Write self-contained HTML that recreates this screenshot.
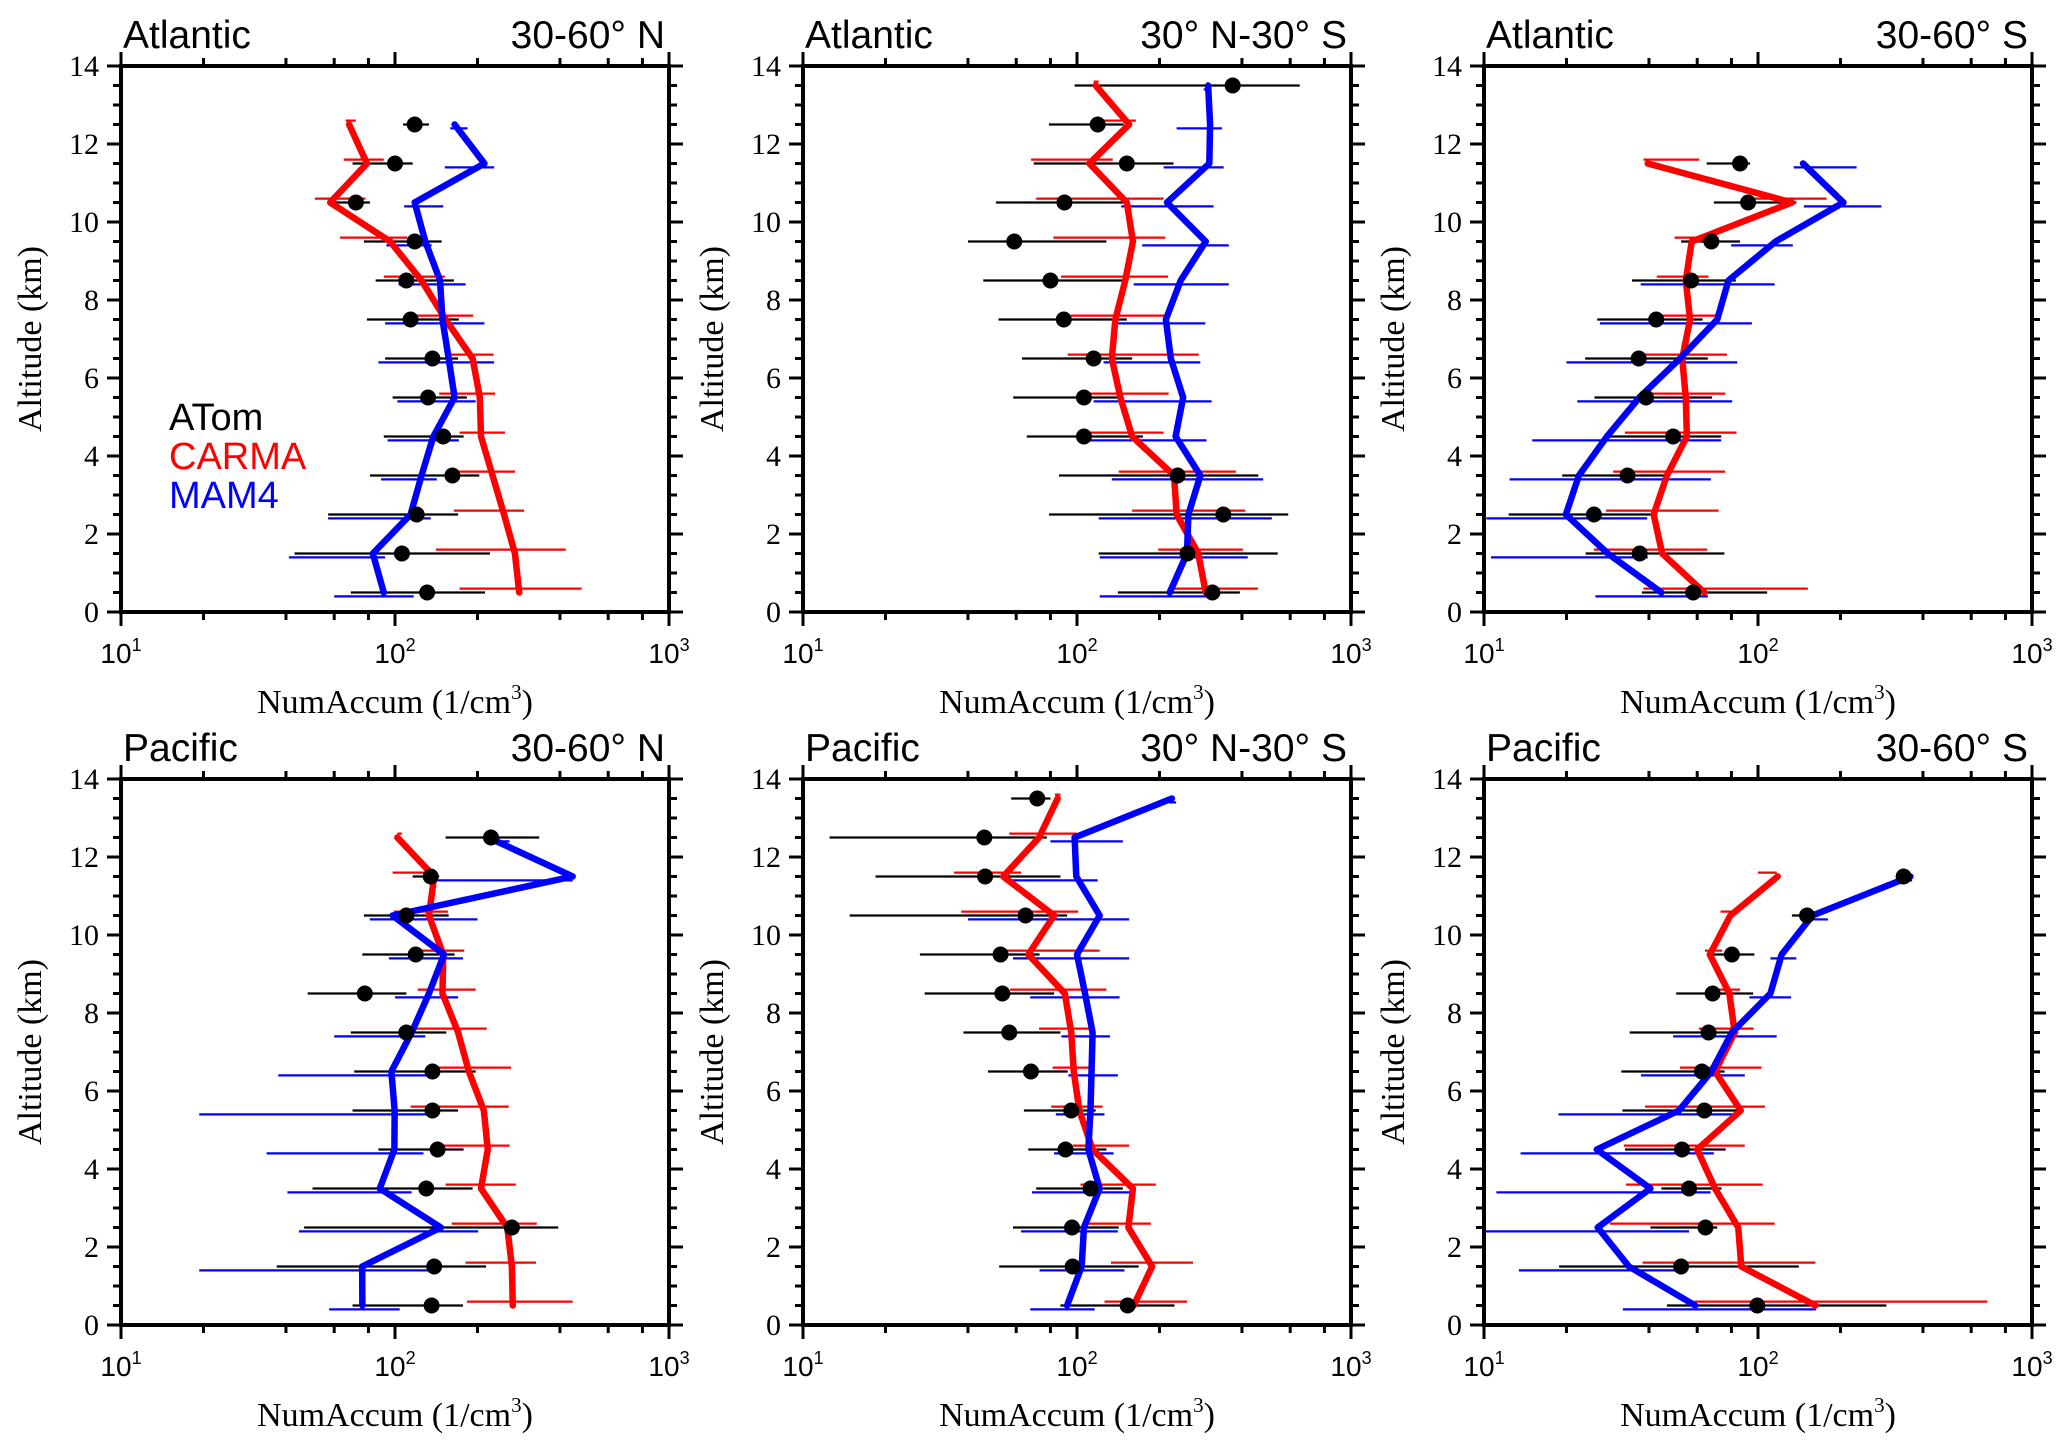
<!DOCTYPE html>
<html><head><meta charset="utf-8"><title>NumAccum profiles</title>
<style>
html,body{margin:0;padding:0;background:#fff;}
svg{display:block;}
.serif{font-family:"Liberation Serif",serif;}
.sans{font-family:"Liberation Sans",sans-serif;}
</style></head>
<body>
<svg id="fig" width="2067" height="1452" viewBox="0 0 2067 1452" xmlns="http://www.w3.org/2000/svg"></svg>
<script>
// ---- data: Atlantic 30-60N ----
const p1Alt = [0.5,1.5,2.5,3.5,4.5,5.5,6.5,7.5,8.5,9.5,10.5,11.5,12.5];
const p1Obs = [131,106,120,162,150,132,137,114,110,118,72,100,118];
const p1ObsLo = [69,43,57,81,91,98,92,79,85,77,60,70,107];
const p1ObsHi = [213,222,170,203,178,183,170,171,164,148,81,116,133];
const p1Carma = [284,274,250,227,206,204,192,153,125,96,58,79,68];
const p1CarmaLo = [172,141,164,168,172,145,153,120,91,63,51,65,66];
const p1CarmaHi = [480,420,296,274,252,232,229,193,152,111,78,91,72];
const p1Mam = [91,83,114,125,138,165,157,149,146,129,118,212,165];
const p1MamLo = [60,41,57,89,94,102,87,92,103,93,108,152,159];
const p1MamHi = [117,92,135,142,171,197,230,212,181,136,150,230,184];
// ---- data: Atlantic 30N-30S ----
const p2Alt = [0.5,1.5,2.5,3.5,4.5,5.5,6.5,7.5,8.5,9.5,10.5,11.5,12.5,13.5];
const p2Obs = [312,253,342,233,106,106,115,89.5,80,59,90,152,119,370];
const p2ObsLo = [141,120,79,86,65.6,58.5,63,51.7,45.5,40,50.6,69.5,79,98];
const p2ObsHi = [393,540,590,459,174,142,159,152,149,128,152,225,148,650];
const p2Carma = [295,277,231,226,159,144,134,138,150,160,152,111,155,117];
const p2CarmaLo = [222,198,159,142,108,105,92.5,95,87.5,82,71,68,123,115];
const p2CarmaHi = [457,403,411,380,207,216,278,215,215,210,207,135,164,120];
const p2Mam = [218,252,255,282,229,244,220,211,239,295,213,304,306,301];
const p2MamLo = [121,121,120,134,108,115,125,136,161,173,145,207,231,290];
const p2MamHi = [312,420,514,478,297,310,282,294,358,358,315,343,338,306];
// ---- data: Atlantic 30-60S ----
const p3Alt = [0.5,1.5,2.5,3.5,4.5,5.5,6.5,7.5,8.5,9.5,10.5,11.5];
const p3Obs = [58,37,25.2,33.4,49,39,36.7,42.5,57,67.6,92,86];
const p3ObsLo = [37.7,23.5,12.3,19.3,27.9,25.3,23.4,25.9,34.7,52.4,69,65];
const p3ObsHi = [108,75.4,41.8,45.4,73.4,68,65.6,62.8,83,86,138,93.5];
const p3Carma = [63.7,44.7,41.6,46.5,55,54.5,52.9,56.5,54.5,57.3,133,39.6];
const p3CarmaLo = [38.2,25.2,27.9,29.6,32.7,38.8,36.2,40.6,42.7,49.6,94,38.2];
const p3CarmaHi = [152,65.3,71.8,75.9,83.5,76,77,73,66,65.6,178,61];
const p3Mam = [44.4,28.3,19.9,22.2,28.1,36.9,51.9,71,78,116,205,146];
const p3MamLo = [25.5,10.6,10.2,12.4,15,21.9,20,26.5,37.3,79.8,147,135];
const p3MamHi = [65.6,39.6,39.4,67.3,73.4,80.5,84,95,115,134,282,229];
// ---- data: Pacific 30-60N ----
const p4Alt = [0.5,1.5,2.5,3.5,4.5,5.5,6.5,7.5,8.5,9.5,10.5,11.5,12.5];
const p4Obs = [136,139,267,130,143,137,137,110,77.6,119,110,135,224];
const p4ObsLo = [70,37,46.6,50,87,70,71,69,48,76,77,116,153];
const p4ObsHi = [177,215,394,192,178,170,197,154,110,165,157,145,336];
const p4Carma = [269,267,257,206,218,211,186,170,149,150,133,139,102];
const p4CarmaLo = [183,181,161,153,142,114,132,118,121,113,99,98,102];
const p4CarmaHi = [445,327,329,276,262,260,265,216,197,179,156,140,106];
const p4Mam = [76,75.9,147,88,99.5,99.7,97,115,133,151,98,445,219];
const p4MamLo = [57.5,19.3,44.6,40.5,34,19.3,37.5,60,100,95,81,139,216];
const p4MamHi = [104,145,201,115,127,144,133,129,170,177,200,445,262];
// ---- data: Pacific 30N-30S ----
const p5Alt = [0.5,1.5,2.5,3.5,4.5,5.5,6.5,7.5,8.5,9.5,10.5,11.5,12.5,13.5];
const p5Obs = [153,96.4,95.9,112,90.8,95.3,67.9,56.6,53.4,52.6,64.9,46.2,45.9,71.6];
const p5ObsLo = [87,52,58.4,71,66.4,64,47.3,38.5,27.8,26.7,14.8,18.4,12.5,57.5];
const p5ObsHi = [227,168,142,147,128,117,92.5,87,82.5,73,92,87,77.6,80];
const p5Carma = [161,188,154,160,114,102,97.3,95.3,90.3,66.4,82.5,53.8,72.7,85];
const p5CarmaLo = [126,133,108,103,96.4,80.5,81.5,72.7,57,51,37.8,35.6,56.6,83];
const p5CarmaHi = [252,265,186,194,155,124,115,114,128,121,101,62.5,100,87];
const p5Mam = [92,104,106,121,110,112,113,114,107,100,121,99.4,98,222];
const p5MamLo = [67.5,73,62.5,68.5,82.5,83.7,93,87.7,67.5,58.4,40,56,80,217];
const p5MamHi = [116,149,141,156,136,126,141,132,143,155,155,119,147,230];
// ---- data: Pacific 30-60S ----
const p6Alt = [0.5,1.5,2.5,3.5,4.5,5.5,6.5,7.5,8.5,9.5,10.5,11.5];
const p6Obs = [99.4,52.4,64.3,56,52.8,63.7,62.4,66,68.3,80.3,151,340];
const p6ObsLo = [46.5,18.8,40.5,44.4,32.7,32,31.7,34,50.3,65.6,133,330];
const p6ObsHi = [294,141,71,73.6,76.2,83.8,75.5,84.7,96,97,162,352];
const p6Carma = [162,86.9,84.7,69.7,60,86.5,69.7,82.2,78.6,66.7,79.3,118];
const p6CarmaLo = [58.7,37.9,28.8,33,32.4,38.7,51.9,60.8,67.6,64,73,100];
const p6CarmaHi = [687,162,115,104,89.5,106,103,96.4,86,74,80.5,117];
const p6Mam = [59,33.8,26,40.5,25.8,51.5,67.6,80.3,111,122,158,360];
const p6MamLo = [32.1,13.4,10.1,11.1,13.6,18.7,37.4,49,93,111,158,338];
const p6MamHi = [163,51.2,56,67.1,69,80.9,89.5,117,132,138,180,365];

const yTickLabels = ["0","2","4","6","8","10","12","14"];
const xDecadeExps = [1,2,3];
const legendLabels = ["ATom","CARMA","MAM4"];

const panels = [
 {ocean:"Atlantic", region:"30-60° N", col:0,row:0, alt:p1Alt, obs:p1Obs, obsLo:p1ObsLo, obsHi:p1ObsHi, carma:p1Carma, carmaLo:p1CarmaLo, carmaHi:p1CarmaHi, mam:p1Mam, mamLo:p1MamLo, mamHi:p1MamHi, legend:true},
 {ocean:"Atlantic", region:"30° N-30° S", col:1,row:0, alt:p2Alt, obs:p2Obs, obsLo:p2ObsLo, obsHi:p2ObsHi, carma:p2Carma, carmaLo:p2CarmaLo, carmaHi:p2CarmaHi, mam:p2Mam, mamLo:p2MamLo, mamHi:p2MamHi},
 {ocean:"Atlantic", region:"30-60° S", col:2,row:0, alt:p3Alt, obs:p3Obs, obsLo:p3ObsLo, obsHi:p3ObsHi, carma:p3Carma, carmaLo:p3CarmaLo, carmaHi:p3CarmaHi, mam:p3Mam, mamLo:p3MamLo, mamHi:p3MamHi},
 {ocean:"Pacific", region:"30-60° N", col:0,row:1, alt:p4Alt, obs:p4Obs, obsLo:p4ObsLo, obsHi:p4ObsHi, carma:p4Carma, carmaLo:p4CarmaLo, carmaHi:p4CarmaHi, mam:p4Mam, mamLo:p4MamLo, mamHi:p4MamHi},
 {ocean:"Pacific", region:"30° N-30° S", col:1,row:1, alt:p5Alt, obs:p5Obs, obsLo:p5ObsLo, obsHi:p5ObsHi, carma:p5Carma, carmaLo:p5CarmaLo, carmaHi:p5CarmaHi, mam:p5Mam, mamLo:p5MamLo, mamHi:p5MamHi},
 {ocean:"Pacific", region:"30-60° S", col:2,row:1, alt:p6Alt, obs:p6Obs, obsLo:p6ObsLo, obsHi:p6ObsHi, carma:p6Carma, carmaLo:p6CarmaLo, carmaHi:p6CarmaHi, mam:p6Mam, mamLo:p6MamLo, mamHi:p6MamHi}
];

const NS = "http://www.w3.org/2000/svg";
const svg = document.getElementById("fig");
const COLX = [121, 803, 1484], ROWY = [66, 779], W = 548, H = 546;
function mk(tag, attrs, parent){
  const e = document.createElementNS(NS, tag);
  for (const k in attrs) e.setAttribute(k, attrs[k]);
  (parent||svg).appendChild(e);
  return e;
}

panels.forEach((p, pi) => {
  const x0 = COLX[p.col], y0 = ROWY[p.row];
  const xs = v => x0 + (Math.log10(v) - 1) / 2 * W;
  const ys = a => y0 + H - a / 14 * H;
  const g = mk("g", {});
  
  

  const cp = mk("clipPath", {id:"clip"+pi}, g);
  mk("rect", {x:x0, y:y0, width:W, height:H}, cp);

  const t1 = mk("text", {x:x0+2, y:y0-18, "font-size":39, class:"sans"}, g);
  t1.textContent = p.ocean;
  
  
  const t2 = mk("text", {x:x0+W-4, y:y0-18, "font-size":39, class:"sans", "text-anchor":"end"}, g);
  t2.textContent = p.region;
  
  

  const tk = mk("g", {stroke:"#000", "stroke-width":3}, g);
  
  
  for (let a = 0; a <= 14; a += 0.5) {
    const major = (a % 2 === 0);
    const len = major ? 14 : 8;
    const y = ys(a);
    mk("line", {x1:x0-len, x2:x0, y1:y, y2:y}, tk);
    mk("line", {x1:x0+W, x2:x0+W+len, y1:y, y2:y}, tk);
  }
  for (let d = 1; d <= 2; d++) {
    for (let m = 1; m <= 10; m++) {
      if (m > 1 && m % 2 === 1) continue;
      const v = Math.pow(10, d) * m;
      const x = xs(v);
      const major = (m === 1 || m === 10);
      const len = major ? 14 : 8;
      mk("line", {x1:x, x2:x, y1:y0+H, y2:y0+H+len}, tk);
      mk("line", {x1:x, x2:x, y1:y0-len, y2:y0}, tk);
    }
  }
  const fr = mk("rect", {x:x0, y:y0, width:W, height:H, fill:"none", stroke:"#000", "stroke-width":4}, g);
  
  

  yTickLabels.forEach((lab, i) => {
    const t = mk("text", {x:x0-22, y:ys(i*2)+10, "font-size":30, class:"serif", "text-anchor":"end"}, g);
    t.textContent = lab;
    
    
  });
  xDecadeExps.forEach(e => {
    const t = mk("text", {x:xs(Math.pow(10,e)), y:y0+H+51, "font-size":28, class:"sans", "text-anchor":"middle"}, g);
    t.textContent = "10";
    const s = mk("tspan", {"font-size":18, dy:-12}, t);
    s.textContent = String(e);
    
    
  });
  const yt = mk("text", {x:0, y:0, "font-size":34, class:"serif", "text-anchor":"middle",
      transform:"translate("+(x0-80)+","+(y0+H/2)+") rotate(-90)"}, g);
  yt.textContent = "Altitude (km)";
  
  
  const xt = mk("text", {x:x0+W/2, y:y0+H+101, "font-size":34, class:"serif", "text-anchor":"middle"}, g);
  xt.textContent = "NumAccum (1/cm";
  const sup = mk("tspan", {"font-size":21, dy:-14}, xt); sup.textContent = "3";
  const cl = mk("tspan", {dy:14}, xt); cl.textContent = ")";
  
  

  const data = mk("g", {"clip-path":"url(#clip"+pi+")"}, g);
  p.alt.forEach((a, i) => {
    const eb = mk("line", {x1:xs(p.obsLo[i]), x2:xs(p.obsHi[i]), y1:ys(a), y2:ys(a), stroke:"#000", "stroke-width":2.2}, data);
    
    
    const rb = mk("line", {x1:xs(p.carmaLo[i]), x2:xs(p.carmaHi[i]), y1:ys(a+0.1), y2:ys(a+0.1), stroke:"#ff0000", "stroke-width":2.2}, data);
    
    
    const bb = mk("line", {x1:xs(p.mamLo[i]), x2:xs(p.mamHi[i]), y1:ys(a-0.1), y2:ys(a-0.1), stroke:"#0000ff", "stroke-width":2.2}, data);
    
    
  });
  const rl = mk("polyline", {points:p.alt.map((a,i)=>xs(p.carma[i])+","+ys(a)).join(" "), fill:"none", stroke:"#ff0000", "stroke-width":6.5, "stroke-linejoin":"round", "stroke-linecap":"round"}, data);
  
  
  const bl = mk("polyline", {points:p.alt.map((a,i)=>xs(p.mam[i])+","+ys(a)).join(" "), fill:"none", stroke:"#0000ff", "stroke-width":6.5, "stroke-linejoin":"round", "stroke-linecap":"round"}, data);
  
  
  p.alt.forEach((a, i) => {
    const c = mk("circle", {cx:xs(p.obs[i]), cy:ys(a), r:8, fill:"#000"}, data);
    
    
  });

  if (p.legend) {
    const cols = ["#000","#ff0000","#0000ff"];
    legendLabels.forEach((lab, i) => {
      const t = mk("text", {x:x0+48, y:y0+364+i*39, "font-size":38, class:"sans", fill:cols[i]}, g);
      t.textContent = lab;
      
      
    });
  }
});
</script>
</body></html>
